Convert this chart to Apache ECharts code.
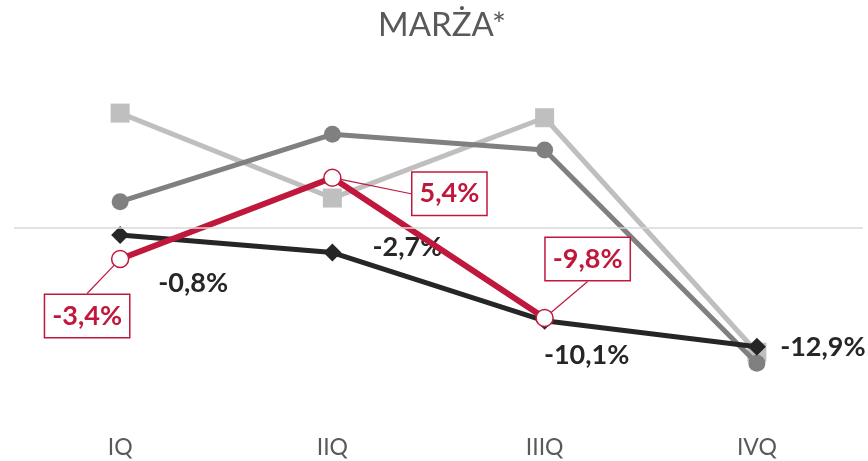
<!DOCTYPE html>
<html>
<head>
    <meta http-equiv="content-type" content="text/html;charset=utf-8" />
    <title>MARŻA</title>
    <script src="https://cdn.jsdelivr.net/npm/echarts@6/dist/echarts.min.js"></script>
    <style>
        html, body { margin: 0; padding: 0; background: #fff; }
    </style>
</head>
<body>
    <div id="main" style="width: 868px;height:461px;"></div>
    <script type="text/javascript">
        // kategorie (kwartały)
        var categories = ['IQ', 'IIQ', 'IIIQ', 'IVQ'];
        // serie w %
        var lightGray = [12.4, 3.2, 11.9, -13.5];
        var darkGray = [2.8, 10.1, 8.4, -14.7];
        var blackSeries = [-0.8, -2.7, -10.1, -12.9];
        var redSeries = [-3.4, 5.4, -9.8, null];

        // przesunięcia etykiet względem punktów
        var blackOffsets = [[73, 48], [75, -5], [42, 34], [66, 1]];
        var redOffsets = [[-33, 57], [117, 16], [43, -59], [0, 0]];

        var FONT = 'Lato, "Open Sans", sans-serif';
        var RED = '#C0183C';

        var myChart = echarts.init(document.getElementById('main'));

        function fmt(v) {
            return v.toFixed(1).replace('.', ',') + '%';
        }

        var option = {
            backgroundColor: '#fff',
            animation: false,
            title: {
                text: 'MARŻA*',
                left: 378,
                top: 9,
                padding: 0,
                textStyle: { fontFamily: FONT, fontSize: 33, fontWeight: 'normal', color: '#595959' }
            },
            grid: { left: 14, right: 5, top: 89.1, bottom: 30.3, containLabel: false },
            xAxis: {
                type: 'category',
                data: categories,
                axisLine: { show: false },
                axisTick: { show: false },
                axisLabel: { margin: 5, fontFamily: FONT, fontSize: 23, color: '#595959' }
            },
            yAxis: {
                type: 'value',
                min: -22,
                max: 15,
                show: false,
                splitLine: { show: false }
            },
            series: [
                {
                    name: 's1',
                    type: 'line',
                    data: lightGray,
                    symbol: 'rect',
                    symbolSize: 19,
                    z: 1,
                    itemStyle: { color: '#BFBFBF' },
                    lineStyle: { color: '#BFBFBF', width: 5 },
                    markLine: {
                        silent: true,
                        symbol: 'none',
                        label: { show: false },
                        lineStyle: { color: '#D9D9D9', width: 1.5, type: 'solid' },
                        data: [{ yAxis: 0 }]
                    }
                },
                {
                    name: 's2',
                    type: 'line',
                    data: darkGray,
                    symbol: 'circle',
                    symbolSize: 17,
                    z: 2,
                    itemStyle: { color: '#808080' },
                    lineStyle: { color: '#808080', width: 5 }
                },
                {
                    name: 's3',
                    type: 'line',
                    data: blackSeries,
                    symbol: 'diamond',
                    symbolSize: 18,
                    z: 3,
                    itemStyle: { color: '#262626' },
                    lineStyle: { color: '#262626', width: 5 },
                    label: {
                        show: true,
                        position: 'inside',
                        formatter: function (p) { return fmt(p.value); },
                        fontFamily: FONT, fontSize: 27, fontWeight: 'bold', color: '#262626'
                    },
                    labelLayout: function (p) {
                        var o = blackOffsets[p.dataIndex];
                        return { dx: o[0], dy: o[1] };
                    }
                },
                {
                    name: 's4',
                    type: 'line',
                    data: redSeries,
                    symbol: 'circle',
                    symbolSize: 17,
                    z: 4,
                    itemStyle: { color: '#fff', borderColor: RED, borderWidth: 1.5 },
                    lineStyle: { color: RED, width: 6 },
                    label: {
                        show: true,
                        position: 'inside',
                        formatter: function (p) { return fmt(p.value); },
                        fontFamily: FONT, fontSize: 27, fontWeight: 'bold', color: RED,
                        backgroundColor: '#fff',
                        borderColor: RED,
                        borderWidth: 1.5,
                        padding: [8, 7, 7, 7]
                    },
                    labelLine: {
                        show: true,
                        lineStyle: { color: RED, width: 1.2 }
                    },
                    labelLayout: function (p) {
                        var o = redOffsets[p.dataIndex];
                        return { dx: o[0], dy: o[1] };
                    }
                }
            ]
        };

        myChart.setOption(option);
    </script>
</body>
</html>
